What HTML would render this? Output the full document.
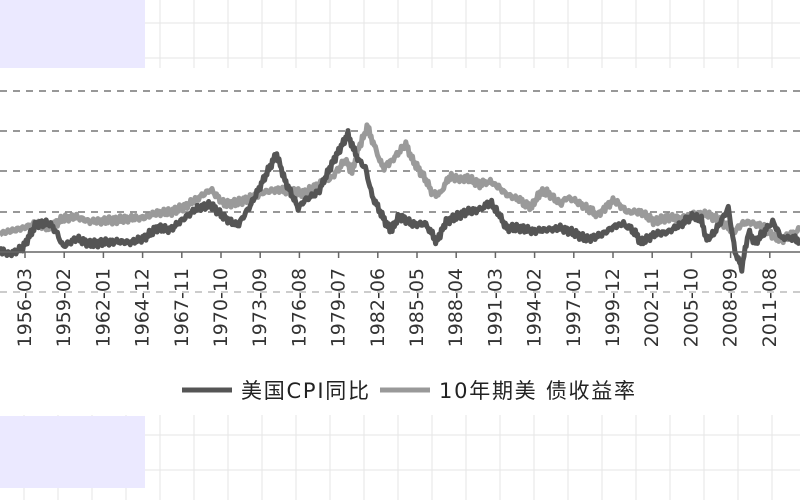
<!DOCTYPE html>
<html><head><meta charset="utf-8"><style>
html,body{margin:0;padding:0;background:#fff;}
svg{display:block;font-family:"DejaVu Sans","Noto Sans CJK SC",sans-serif;}
</style></head><body>
<svg id="s" width="800" height="500" viewBox="0 0 800 500" xmlns="http://www.w3.org/2000/svg">
<g id="grid" stroke="#e6e6e6" stroke-width="1"></g>
<rect x="0" y="68" width="800" height="347" fill="#fff"/>
<rect x="0" y="0" width="145" height="68" fill="#ebe9ff"/>
<rect x="0" y="416" width="145" height="72" fill="#ebe9ff"/>
<g stroke="#777" stroke-width="1.5" stroke-dasharray="7,6">
<line x1="0" y1="91" x2="800" y2="91"/>
<line x1="0" y1="131" x2="800" y2="131"/>
<line x1="0" y1="171" x2="800" y2="171"/>
<line x1="0" y1="212" x2="800" y2="212"/>
<line x1="0" y1="292" x2="800" y2="292" stroke="#999" stroke-width="1"/>
</g>
<g id="lines" fill="none" stroke-linejoin="round" stroke-width="5"></g>
<line x1="0" y1="252" x2="800" y2="252" stroke="#666" stroke-width="1.5"/>
<g id="ticks" stroke="#666" stroke-width="1.5"></g>
<g id="labels" font-size="19" fill="#333"></g>
<line x1="182" y1="390" x2="232" y2="390" stroke="#555" stroke-width="5"/>
<text x="241" y="398" font-size="21" fill="#222" textLength="128">美国CPI同比</text>
<line x1="380" y1="390" x2="430" y2="390" stroke="#999" stroke-width="5"/>
<text x="439" y="398" font-size="21" fill="#222" textLength="196">10年期美 债收益率</text>
</svg>
<script>
var NS="http://www.w3.org/2000/svg";
function el(t,a,p){var e=document.createElementNS(NS,t);for(var k in a)e.setAttribute(k,a[k]);p.appendChild(e);return e;}
var g=document.getElementById('grid');
for(var x=24;x<800;x+=34)el('line',{x1:x,y1:0,x2:x,y2:500},g);
[23,58,435,470].forEach(function(y){el('line',{x1:0,y1:y,x2:800,y2:y},g);});
function X(t){return 25+(t-1956.17)*13.44;}
function Y(v){return 252-8*v;}
var cpi=[[1954.3,0.3],[1955,-0.3],[1956,0.5],[1957,3.5],[1958,3.6],[1958.5,2.5],[1959,0.7],[1960,1.7],[1961,1.0],[1962,1.2],[1963,1.3],[1964,1.2],[1965,1.7],[1966,3.0],[1967,2.8],[1968,4.2],[1969,5.5],[1970,5.9],[1971,4.3],[1972,3.3],[1973,6.0],[1974.5,11],[1974.9,12.2],[1975.5,9],[1976.5,5.5],[1977,6.5],[1978,7.5],[1979,11],[1980.2,14.8],[1980.6,12.9],[1981,11.5],[1981.5,10.5],[1982,7],[1982.9,4],[1983.4,2.6],[1984,4.5],[1985,3.5],[1986,3.5],[1986.8,1.3],[1987.5,3.8],[1988,4.2],[1989,5],[1990,5.3],[1990.8,6.2],[1991.5,4.5],[1992,3],[1993,3],[1994,2.6],[1995,2.8],[1996,3],[1997,2.4],[1998,1.6],[1999,2.1],[2000,3.2],[2000.7,3.5],[2001.5,2.6],[2002,1.2],[2003,2.2],[2004,2.5],[2005,3.5],[2005.8,4.5],[2006.5,4],[2006.9,1.5],[2007.5,2.5],[2008.5,5.5],[2009,0],[2009.5,-2],[2010,2.5],[2010.5,1.2],[2011,2.2],[2011.8,3.8],[2012.5,1.7],[2013,1.8],[2013.8,1.5]];
var ty=[[1954.3,2.3],[1956,3],[1957,3.6],[1958,3.0],[1959,4.2],[1960,4.4],[1961,3.8],[1962,3.9],[1963,4.0],[1964,4.2],[1965,4.3],[1966,4.9],[1967,5.0],[1968,5.6],[1969,6.7],[1970,7.8],[1971,6],[1972,6.2],[1973,6.8],[1974,7.5],[1975,7.8],[1976,7.5],[1977,7.4],[1978,8.5],[1979,9.3],[1980,11.5],[1980.5,10],[1981,13],[1981.7,15.8],[1982,14],[1982.8,10.5],[1983.5,11.5],[1984.5,13.5],[1985,11.5],[1986,9],[1986.5,7.3],[1987,7.2],[1987.8,9.5],[1988.5,9.0],[1989,9.3],[1990,8.5],[1990.8,8.8],[1991.5,8],[1992,7.2],[1993,6.5],[1993.8,5.5],[1994.5,7.4],[1995,7.5],[1996,6],[1996.5,6.8],[1997,6.5],[1998,5.5],[1998.8,4.6],[1999.5,5.8],[2000,6.5],[2001,5],[2002,5],[2003,3.8],[2004,4.3],[2005,4.2],[2006,4.8],[2007,4.7],[2008,3.8],[2008.9,2.5],[2009.5,3.5],[2010,3.7],[2011,3.3],[2012,1.8],[2012.5,1.6],[2013,2],[2013.8,2.8]];
function path(d,seed){var p=[];for(var i=0;i<d.length-1;i++){var a=d[i],b=d[i+1];var n=Math.max(1,Math.round((b[0]-a[0])*12));for(var j=0;j<n;j++){var t=a[0]+(b[0]-a[0])*j/n,v=a[1]+(b[1]-a[1])*j/n;v+=0.3*Math.sin(t*37+seed)+0.2*Math.sin(t*91+seed*2);p.push(X(t).toFixed(1)+','+Y(v).toFixed(1));}}var l=d[d.length-1];p.push(X(l[0]).toFixed(1)+','+Y(l[1]).toFixed(1));return p.join(' ');}
var L=document.getElementById('lines');
el('polyline',{points:path(ty,1),stroke:'#9a9a9a'},L);
el('polyline',{points:path(cpi,3),stroke:'#555'},L);
var labs=['1956-03','1959-02','1962-01','1964-12','1967-11','1970-10','1973-09','1976-08','1979-07','1982-06','1985-05','1988-04','1991-03','1994-02','1997-01','1999-12','2002-11','2005-10','2008-09','2011-08'];
var T=document.getElementById('ticks'),Lb=document.getElementById('labels');
labs.forEach(function(s,i){var x=25+i*39.2;el('line',{x1:x,y1:252,x2:x,y2:258},T);var t=el('text',{x:0,y:0,'text-anchor':'end',transform:'translate('+(x+6)+',268) rotate(-90)'},Lb);t.textContent=s;});
</script>
</body></html>
